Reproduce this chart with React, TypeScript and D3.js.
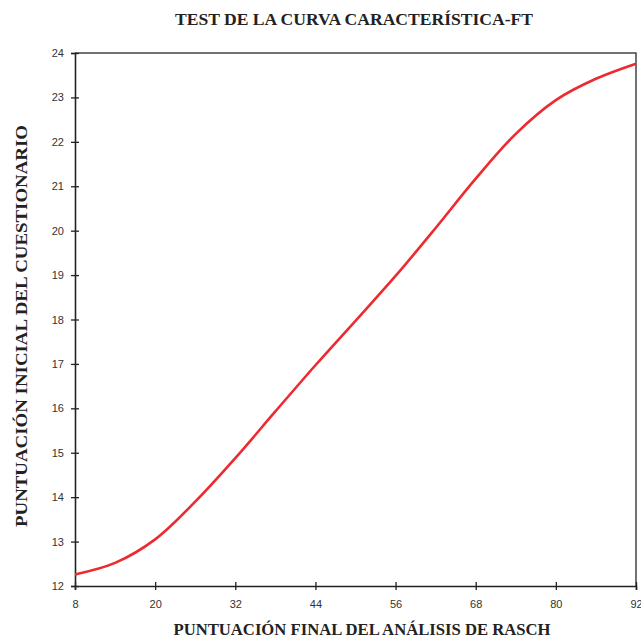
import React, { useEffect, useRef } from 'react';
import * as d3 from 'd3';

// values
const scoreFinal = [8, 14, 20, 26, 32, 38, 44, 50, 56, 62, 68, 74, 80, 86, 92];
const scoreInitial = [12.26, 12.52, 13.05, 13.9, 14.88, 15.93, 16.97, 17.97, 18.98, 20.06, 21.17, 22.18, 22.94, 23.42, 23.76];
const xTicks = [8, 20, 32, 44, 56, 68, 80, 92];
const yTicks = [12, 13, 14, 15, 16, 17, 18, 19, 20, 21, 22, 23, 24];

const title = 'TEST DE LA CURVA CARACTERÍSTICA-FT';
const xLabel = 'PUNTUACIÓN FINAL DEL ANÁLISIS DE RASCH';
const yLabel = 'PUNTUACIÓN INICIAL DEL CUESTIONARIO';

const serif = '"Liberation Serif", "Times New Roman", serif';

const App = () => {
    const ref = useRef<SVGSVGElement | null>(null);

    useEffect(() => {
        if (!ref.current) return;
        const svg = d3.select(ref.current);
        svg.selectAll('*').remove();

        const left = 75, right = 636, top = 53, bottom = 586;

        const x = d3.scaleLinear().domain([8, 92]).range([left, right]);
        const y = d3.scaleLinear().domain([12, 24]).range([bottom, top]);

        // title
        svg.append('text')
            .attr('x', 354).attr('y', 25)
            .attr('text-anchor', 'middle')
            .attr('font-family', serif)
            .attr('font-weight', 'bold')
            .attr('font-size', 17)
            .attr('fill', '#222')
            .attr('textLength', 358)
            .attr('lengthAdjust', 'spacingAndGlyphs')
            .text(title);

        // top + right frame
        svg.append('path')
            .attr('d', `M${left},${top}H${right}V${bottom}`)
            .attr('fill', 'none')
            .attr('stroke', '#444')
            .attr('stroke-width', 1.5);

        const yAxis = svg.append('g')
            .attr('transform', `translate(${left},0)`)
            .call(d3.axisLeft(y).tickValues(yTicks).tickSize(4).tickPadding(7).tickFormat(d3.format('d')));
        yAxis.selectAll('.tick line').attr('x1', 4);

        const xAxis = svg.append('g')
            .attr('transform', `translate(0,${bottom})`)
            .call(d3.axisBottom(x).tickValues(xTicks).tickSize(4).tickPadding(10).tickFormat(d3.format('d')));
        xAxis.selectAll('.tick line').attr('y1', -4);

        [yAxis, xAxis].forEach(g => {
            g.select('.domain').attr('stroke', '#222').attr('stroke-width', 1.6);
            g.selectAll('.tick line').attr('stroke', '#222').attr('stroke-width', 1.3);
            g.selectAll('.tick text')
                .attr('font-family', '"Liberation Sans", Arial, sans-serif')
                .attr('font-size', 11)
                .attr('fill', '#333');
        });

        const line = d3.line<number>()
            .x((d, i) => x(scoreFinal[i]))
            .y(d => y(d))
            .curve(d3.curveCatmullRom);

        svg.append('path')
            .datum(scoreInitial)
            .attr('d', line)
            .attr('fill', 'none')
            .attr('stroke', '#ec2a2f')
            .attr('stroke-width', 2.6);

        // axis titles
        svg.append('text')
            .attr('x', 362).attr('y', 635)
            .attr('text-anchor', 'middle')
            .attr('font-family', serif)
            .attr('font-weight', 'bold')
            .attr('font-size', 17)
            .attr('fill', '#222')
            .attr('textLength', 377)
            .attr('lengthAdjust', 'spacingAndGlyphs')
            .text(xLabel);

        svg.append('text')
            .attr('transform', 'translate(27,326) rotate(-90)')
            .attr('text-anchor', 'middle')
            .attr('font-family', serif)
            .attr('font-weight', 'bold')
            .attr('font-size', 17)
            .attr('fill', '#222')
            .attr('textLength', 402)
            .attr('lengthAdjust', 'spacingAndGlyphs')
            .text(yLabel);
    }, []);

    return (
        <svg ref={ref} width={641} height={638}
            style={{ position: 'absolute', left: 0, top: 0, background: '#fff' }} />
    );
};

export default App;
